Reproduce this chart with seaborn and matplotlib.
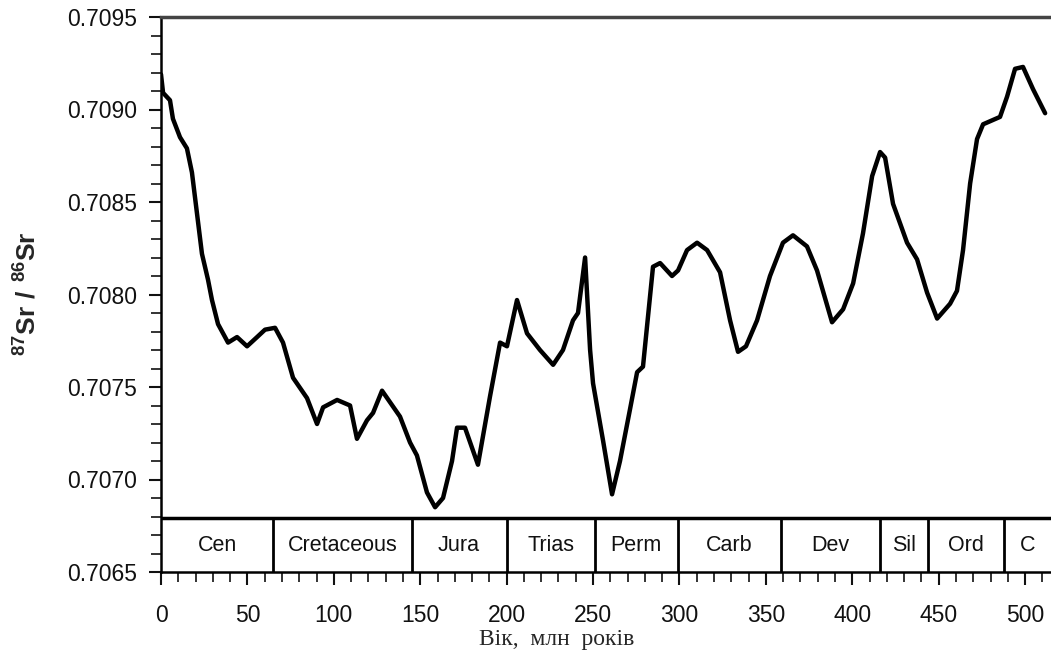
import numpy as np
import pandas as pd
import matplotlib
matplotlib.use("Agg")
import matplotlib.pyplot as plt
from matplotlib.ticker import MultipleLocator, FormatStrFormatter
import seaborn as sns

# Sr isotope curve (age in Ma)
age = [0, 1.2, 5.2, 6.9, 11.0, 15.0, 17.9, 20.8, 23.7, 27.2, 29.5, 33.0,
       38.8, 44.0, 49.8, 55.6, 60.2, 66.0, 70.6, 76.4, 84.5, 90.3, 93.8,
       101.9, 109.4, 113.4, 119.2, 122.7, 127.9, 138.3, 144.1, 148.1,
       153.9, 158.6, 163.2, 168.4, 171.3, 175.9, 183.4, 190.4, 196.2,
       200.2, 206.0, 211.8, 219.3, 226.9, 232.6, 238.4, 241.3, 245.4,
       248.3, 250.0, 255.8, 261.0, 265.6, 271.4, 275.5, 278.9, 281.8,
       284.7, 288.8, 295.7, 299.2, 304.4, 310.2, 316.0, 323.5, 329.3,
       333.9, 338.5, 344.9, 352.4, 359.9, 365.7, 373.8, 379.6, 388.3,
       394.7, 400.5, 406.2, 411.5, 416.1, 419.0, 423.6, 431.7, 437.5,
       443.3, 449.1, 456.6, 460.6, 464.1, 468.2, 472.2, 475.7, 485.5,
       489.6, 494.2, 498.8, 504.6, 511.6]
sr = [0.70919, 0.70909, 0.70905, 0.70895, 0.70885, 0.70879, 0.70866, 0.70844,
      0.70822, 0.70808, 0.70797, 0.70784, 0.70774, 0.70777, 0.70772, 0.70777,
      0.70781, 0.70782, 0.70774, 0.70755, 0.70744, 0.70730, 0.70739, 0.70743,
      0.70740, 0.70722, 0.70732, 0.70736, 0.70748, 0.70734, 0.70720, 0.70713,
      0.70693, 0.70685, 0.70690, 0.70710, 0.70728, 0.70728, 0.70708, 0.70745,
      0.70774, 0.70772, 0.70797, 0.70779, 0.70770, 0.70762, 0.70770, 0.70786,
      0.70790, 0.70820, 0.70770, 0.70752, 0.70721, 0.70692, 0.70710, 0.70738,
      0.70758, 0.70761, 0.70788, 0.70815, 0.70817, 0.70810, 0.70813, 0.70824,
      0.70828, 0.70824, 0.70812, 0.70786, 0.70769, 0.70772, 0.70786, 0.70810,
      0.70828, 0.70832, 0.70826, 0.70813, 0.70785, 0.70792, 0.70806, 0.70833,
      0.70864, 0.70877, 0.70874, 0.70849, 0.70828, 0.70819, 0.70801, 0.70787,
      0.70795, 0.70802, 0.70824, 0.70860, 0.70884, 0.70892, 0.70896, 0.70907,
      0.70922, 0.70923, 0.70911, 0.70898]

# geological periods
period_names = ['Cen', 'Cretaceous', 'Jura', 'Trias', 'Perm', 'Carb', 'Dev', 'Sil', 'Ord', 'C']
period_start = [0, 65, 145, 200, 251, 299, 359, 416, 444, 488]
period_end = [65, 145, 200, 251, 299, 359, 416, 444, 488, 542]

sns.set_style("ticks")
plt.rcParams['font.family'] = ['Liberation Sans', 'DejaVu Sans']
plt.rcParams['mathtext.fontset'] = 'custom'
plt.rcParams['mathtext.rm'] = 'Liberation Sans'
plt.rcParams['mathtext.bf'] = 'Liberation Sans:bold'

fig = plt.figure(figsize=(10.51, 6.52), dpi=100)
ax = fig.add_axes([161/1051, 80/652, 890/1051, 555/652])

df = pd.DataFrame({'age': age, 'sr': sr})
sns.lineplot(data=df, x='age', y='sr', color='black', linewidth=3.2, ax=ax)

xmax = 515
ymin, ymax = 0.7065, 0.7095
ax.set_xlim(0, xmax)
ax.set_ylim(ymin, ymax)

# period bar at the bottom
bar_top = 0.70679
ax.hlines(bar_top, 0, xmax, color='black', linewidth=2.5)
for s, e, name in zip(period_start, period_end, period_names):
    if s > 0:
        ax.vlines(s, ymin, bar_top, color='black', linewidth=2)
    ax.text((s + min(e, xmax)) / 2, (ymin + bar_top) / 2, name,
            ha='center', va='center', fontsize=15.5, color='#111111')

ax.xaxis.set_major_locator(MultipleLocator(50))
ax.xaxis.set_minor_locator(MultipleLocator(10))
ax.yaxis.set_major_locator(MultipleLocator(0.0005))
ax.yaxis.set_minor_locator(MultipleLocator(0.0001))
ax.yaxis.set_major_formatter(FormatStrFormatter('%.4f'))
ax.tick_params(which='major', direction='out', length=9, width=1.5,
               labelsize=16.5, colors='#111111')
ax.tick_params(which='minor', direction='out', length=7, width=1.2, colors='#111111')
ax.tick_params(axis='x', which='major', pad=14)
ax.tick_params(axis='y', which='major', pad=8)

ax.spines['right'].set_visible(False)
ax.spines['top'].set_color('#444444')
ax.spines['top'].set_linewidth(2.5)
for side in ['left', 'bottom']:
    ax.spines[side].set_color('black')
    ax.spines[side].set_linewidth(1.8)

ax.set_xlabel('')
ax.set_ylabel('')
fig.text(28/1051, 1 - 294/652, r'$\mathbf{^{87}Sr\ /\ ^{86}Sr}$', rotation=90,
         ha='center', va='center', fontsize=19)
fig.text(557/1051, 1 - 640/652, 'Вік,  млн  років', family='Liberation Serif',
         fontsize=17, ha='center', va='center')

fig.savefig('out.png', dpi=100)
